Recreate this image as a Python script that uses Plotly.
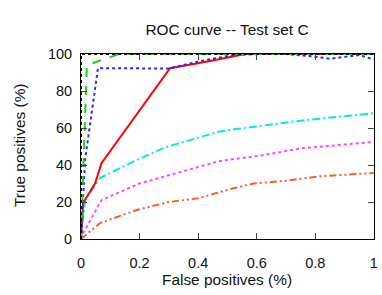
import plotly.graph_objects as go

# perfect classifier (black dotted)
perf_x = [0, 0, 1]
perf_y = [0, 100, 100]

green_x = [0, 0.02, 0.13, 1]
green_y = [0, 94, 100, 100]

blue_x = [0, 0.014, 0.058, 0.15, 0.3, 0.4, 0.52, 0.6, 0.7, 0.78, 0.85, 0.9, 0.95, 1]
blue_y = [0, 43, 92.4, 92.2, 92.2, 96, 99.5, 100, 100, 99, 97.5, 98.5, 99.5, 97]

red_x = [0, 0.007, 0.048, 0.07, 0.304, 0.4, 0.51, 0.56, 1]
red_y = [0, 19.5, 30, 41, 92.4, 95, 98.4, 100, 100]

cyan_x = [0, 0.014, 0.065, 0.19, 0.29, 0.47, 0.51, 0.75, 1]
cyan_y = [0, 21, 33, 42.7, 49.7, 58, 59, 64, 68]

mag_x = [0, 0.007, 0.07, 0.2, 0.47, 0.51, 0.61, 0.75, 1]
mag_y = [0, 3, 21, 30, 42, 43, 45, 49, 52.5]

orange_x = [0, 0.065, 0.19, 0.3, 0.4, 0.47, 0.51, 0.59, 0.7, 0.82, 1]
orange_y = [0, 8.6, 15.7, 20, 22, 25.4, 27, 30, 31.5, 34, 35.7]

x_ticks = [0, 0.2, 0.4, 0.6, 0.8, 1]
x_tick_labels = ["0", "0.2", "0.4", "0.6", "0.8", "1"]
y_ticks = [0, 20, 40, 60, 80, 100]

fig = go.Figure()
series = [
    (orange_x, orange_y, "#ff5a1e", "7px,3px,2px,3px,2px,3px"),
    (mag_x, mag_y, "#ff44ff", "dot"),
    (cyan_x, cyan_y, "#00e8e8", "8px,3px,2px,3px"),
    (red_x, red_y, "#ff0000", "solid"),
    (blue_x, blue_y, "#2a2aee", "dot"),
    (green_x, green_y, "#22cc22", "dash"),
    (perf_x, perf_y, "#000000", "dot"),
]
for xs, ys, c, d in series:
    fig.add_trace(go.Scatter(x=xs, y=ys, mode="lines",
                             line=dict(color=c, width=2, dash=d),
                             showlegend=False, cliponaxis=False))

L, R, T, B, W, H = 81, 8, 54, 56, 382, 295
pw, ph = W - L - R, H - T - B

def px(x):
    return (x - L) / pw

def py(y):
    return (H - B - y) / ph

font = dict(family="Liberation Sans, Arial, sans-serif", size=14.5, color="#111")
fig.update_layout(
    width=W, height=H,
    margin=dict(l=L, r=R, t=T, b=B),
    paper_bgcolor="white", plot_bgcolor="white",
    font=font,
    title=dict(text="ROC curve -- Test set C", x=227 / W, xanchor="center",
               y=1 - 30 / H, yanchor="middle", font=dict(size=15.4), automargin=False),
    xaxis=dict(range=[0, 1.0005], tickvals=x_ticks, ticktext=x_tick_labels,
               showgrid=False, zeroline=False, showline=True, linecolor="black",
               linewidth=1, mirror="allticks", ticks="inside", ticklen=6,
               tickcolor="#444", tickfont=dict(size=14.5), automargin=False,
               ticklabelstandoff=11),
    yaxis=dict(range=[0, 100.05], tickvals=y_ticks,
               showgrid=False, zeroline=False, showline=True, linecolor="black",
               linewidth=1, mirror="allticks", ticks="inside", ticklen=6,
               tickcolor="#444", tickfont=dict(size=14.5), automargin=False,
               ticklabelstandoff=5),
    annotations=[
        dict(text="False positives (%)", xref="paper", yref="paper",
             x=px(227), y=py(279), xanchor="center", yanchor="middle",
             showarrow=False, font=dict(size=15.4)),
        dict(text="True positives (%)", xref="paper", yref="paper",
             x=px(19), y=py(146), xanchor="center", yanchor="middle",
             textangle=-90, showarrow=False, font=dict(size=15.4)),
    ],
)
fig.write_html("out.html", config={"displayModeBar": False},
               post_script="document.body.style.margin='0';")
